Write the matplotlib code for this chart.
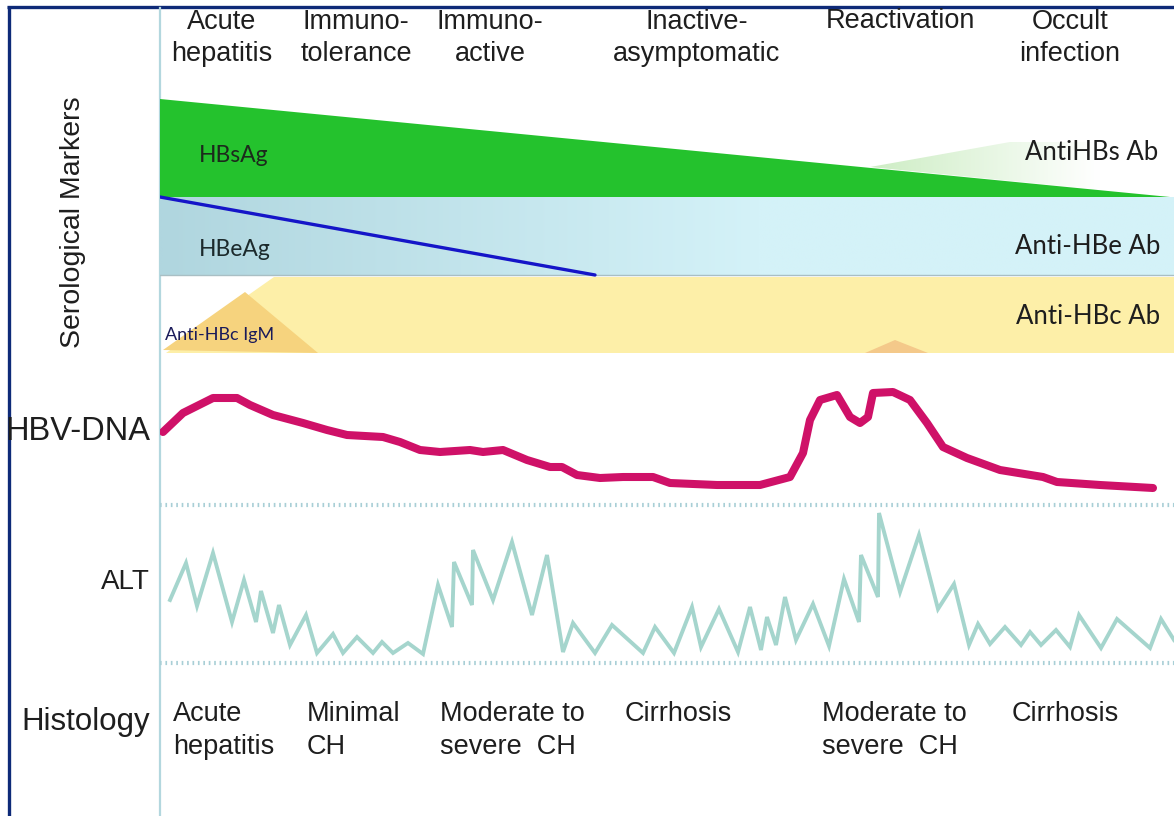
import matplotlib
matplotlib.use("Agg")
import matplotlib.pyplot as plt
import numpy as np
from matplotlib.patches import Polygon
from matplotlib.colors import LinearSegmentedColormap

# ---------------- data ----------------
stages = ["Acute\nhepatitis", "Immuno-\ntolerance", "Immuno-\nactive",
          "Inactive-\nasymptomatic", "Reactivation", "Occult\ninfection"]
histology = ["Acute\nhepatitis", "Minimal\nCH", "Moderate to\nsevere  CH",
             "Cirrhosis", "Moderate to\nsevere  CH", "Cirrhosis"]
row_labels = ["Serological Markers", "HBV-DNA", "ALT", "Histology"]
marker_left = ["HBsAg", "HBeAg", "Anti-HBc IgM"]
marker_right = ["AntiHBs Ab", "Anti-HBe Ab", "Anti-HBc Ab"]

# serological marker levels (time 0..1014, arbitrary level units)
hbsag_t = [0, 0, 1010]
hbsag_level = [15.8, 25.6, 15.8]
antihbs_t = [710, 850, 1014, 1014]
antihbs_level = [18.8, 21.3, 21.3, 15.8]
hbeag_t = [0, 435]
hbeag_level = [15.8, 8.0]
anti_hbe_band = [8.0, 15.8]
anti_hbc_t = [114, 1014, 1014, 6]
anti_hbc_level = [7.8, 7.8, 0.2, 0.2]
igm_t = [3, 85, 158]
igm_level = [0.5, 6.3, 0.2]
react_igm_t = [705, 735, 768]
react_igm_level = [0.2, 1.5, 0.2]

# HBV-DNA
dna_t = [3, 23, 53, 77, 90, 113, 143, 167, 187, 223, 240, 260, 280, 310, 323,
         343, 367, 390, 402, 417, 440, 463, 493, 510, 557, 600, 630, 643, 650,
         660, 677, 690, 700, 708, 713, 733, 750, 767, 783, 807, 840, 883, 897,
         940, 993]
dna_level = [7.3, 9.2, 10.7, 10.7, 10.0, 9.0, 8.2, 7.5, 7.0, 6.8, 6.3, 5.5,
             5.3, 5.5, 5.3, 5.5, 4.5, 3.8, 3.8, 3.0, 2.7, 2.8, 2.8, 2.2, 2.0,
             2.0, 2.8, 5.2, 8.5, 10.5, 11.0, 8.8, 8.2, 8.8, 11.2, 11.3, 10.5,
             8.2, 5.8, 4.7, 3.5, 2.8, 2.3, 2.0, 1.7]

# ALT
alt_t = [10, 26, 37, 53, 72, 84, 96, 101, 113, 119, 130, 146, 157, 173, 183,
         197, 213, 222, 233, 248, 263, 278, 292, 294, 312, 313, 333, 352, 372,
         387, 403, 413, 435, 452, 483, 495, 514, 532, 541, 559, 578, 590, 601,
         607, 616, 625, 636, 653, 669, 684, 699, 701, 718, 719, 740, 759, 778,
         794, 809, 818, 830, 845, 861, 870, 881, 896, 910, 919, 941, 957, 990,
         1001, 1014]
alt_level = [6.3, 10.0, 5.7, 11.0, 4.1, 8.3, 4.1, 7.2, 3.0, 5.8, 1.8, 4.8,
             1.0, 2.9, 1.0, 2.6, 1.0, 2.1, 1.0, 2.0, 0.9, 7.8, 3.6, 10.1, 5.8,
             11.3, 6.3, 12.1, 4.8, 10.8, 1.1, 4.0, 1.0, 3.8, 1.0, 3.6, 1.0,
             5.6, 1.6, 5.4, 1.1, 5.6, 1.3, 4.6, 1.8, 6.6, 2.3, 5.9, 1.7, 8.4,
             4.1, 10.8, 6.6, 15.0, 7.1, 12.8, 5.4, 7.9, 1.8, 3.9, 1.9, 3.6,
             1.8, 3.1, 1.8, 3.3, 1.6, 4.8, 1.5, 4.4, 1.5, 4.4, 2.3]

# ---------------- figure ----------------
W, H = 1174, 816
fig = plt.figure(figsize=(W / 100, H / 100), dpi=100)
fig.patch.set_facecolor("white")


def px_axes(x0, y0, x1, y1, z=1):
    ax = fig.add_axes([x0 / W, 1 - y1 / H, (x1 - x0) / W, (y1 - y0) / H])
    ax.set_zorder(z)
    ax.patch.set_alpha(0)
    ax.axis("off")
    return ax


deco = fig.add_axes([0, 0, 1, 1])
deco.set_xlim(0, W)
deco.set_ylim(H, 0)
deco.axis("off")

ARIAL = "Liberation Sans"
CAL = "Lato"
TXT = "#1e1e1e"

# border + timeline axis
deco.plot([7, W], [6.5, 6.5], color="#0e2a78", lw=2.4, solid_capstyle="butt")
deco.plot([8.5, 8.5], [5.5, H], color="#0e2a78", lw=2.4, solid_capstyle="butt")
deco.plot([160, 160], [8, H], color="#b3d7de", lw=1.6)

# stage labels
stage_x = [222, 356, 490, 697, 900, 1070]
for s, x in zip(stages, stage_x):
    y = 21 if "\n" not in s else 38
    deco.text(x, y, s, ha="center", va="center", fontsize=19.5, family=ARIAL,
              color=TXT, linespacing=1.3)

# histology labels
hist_x = [173, 307, 440, 625, 822, 1012]
for s, x in zip(histology, hist_x):
    if "\n" in s:
        deco.text(x, 730.5, s, ha="left", va="center", fontsize=19.5,
                  family=ARIAL, color=TXT, linespacing=1.33)
    else:
        deco.text(x, 714, s, ha="left", va="center", fontsize=19.5,
                  family=ARIAL, color=TXT)

# row labels
deco.text(73, 222, row_labels[0], rotation=90, ha="center", va="center",
          fontsize=20.5, family=ARIAL, color=TXT)
deco.text(150, 432, row_labels[1], ha="right", va="center", fontsize=23.5,
          family=ARIAL, color=TXT)
deco.text(150, 582, row_labels[2], ha="right", va="center", fontsize=20,
          family=ARIAL, color=TXT)
deco.text(150, 722, row_labels[3], ha="right", va="center", fontsize=22.5,
          family=ARIAL, color=TXT)

# ---------------- serological markers ----------------
sero = px_axes(160, 90, 1174, 355, z=2)
sero.set_xlim(0, 1014)
sero.set_ylim(0, 26.5)

# HBe band with horizontal gradient
tt = np.linspace(0, 1014, 512)
grad = np.clip(tt / 600, 0, 1).reshape(1, -1)
cm_blue = LinearSegmentedColormap.from_list("b", ["#b0d6df", "#d4f2f8"])
sero.imshow(grad, extent=[0, 1014, anti_hbe_band[0], anti_hbe_band[1]],
            aspect="auto", cmap=cm_blue, zorder=1, interpolation="bilinear")
sero.plot([0, 1014], [anti_hbe_band[0]] * 2, color="#a9bfc4", lw=1.0, zorder=2)

# Anti-HBs (light green fading)
ahbs = Polygon(list(zip(antihbs_t, antihbs_level)), closed=True,
               facecolor="none", edgecolor="none")
sero.add_patch(ahbs)
g2 = np.clip((tt - 710) / 230, 0, 1).reshape(1, -1)
cm_g = LinearSegmentedColormap.from_list("g", ["#cdedc4", "#ffffff"])
im = sero.imshow(g2, extent=[0, 1014, 15.8, 21.7], aspect="auto", cmap=cm_g,
                 zorder=1, interpolation="bilinear")
im.set_clip_path(ahbs)

# HBsAg
sero.add_patch(Polygon(list(zip(hbsag_t, hbsag_level)), closed=True,
                       facecolor="#24c22d", edgecolor="none", zorder=3))
# HBeAg line
sero.plot(hbeag_t, hbeag_level, color="#1515c8", lw=2.4, zorder=4,
          solid_capstyle="round")

# Anti-HBc
sero.add_patch(Polygon(list(zip(anti_hbc_t, anti_hbc_level)), closed=True,
                       facecolor="#fdefa8", edgecolor="none", zorder=2))
sero.add_patch(Polygon(list(zip(igm_t, igm_level)), closed=True,
                       facecolor="#f6d37e", edgecolor="none", zorder=3))
sero.add_patch(Polygon(list(zip(react_igm_t, react_igm_level)), closed=True,
                       facecolor="#f4c98a", edgecolor="none", zorder=3))

# marker texts
kw = dict(family=CAL, zorder=5, va="center")
sero.text(39, 20.0, marker_left[0], fontsize=16.5, color="#1c2a1c", **kw)
sero.text(39, 10.5, marker_left[1], fontsize=16.5, color="#1c2a2c", **kw)
sero.text(5, 2.0, marker_left[2], fontsize=13, color="#1a1a5a", **kw)
sero.text(998, 20.2, marker_right[0], fontsize=18.5, color="#1e1e1e",
          ha="right", **kw)
sero.text(1000, 10.8, marker_right[1], fontsize=18.5, color="#1e1e1e",
          ha="right", **kw)
sero.text(1000, 3.9, marker_right[2], fontsize=18.5, color="#1e1e1e",
          ha="right", **kw)

# ---------------- HBV-DNA ----------------
dna = px_axes(160, 375, 1174, 510, z=3)
dna.set_xlim(0, 1014)
dna.set_ylim(-0.5, 13)
dna.axhline(0, color="#a9cfd6", lw=3, linestyle=(0, (0.4, 0.9)))
dna.plot(dna_t, dna_level, color="#cf1168", lw=5.8, solid_capstyle="round",
         solid_joinstyle="round")

# ---------------- ALT ----------------
alt = px_axes(160, 505, 1174, 668, z=3)
alt.set_xlim(0, 1014)
alt.set_ylim(-0.5, 15.8)
alt.axhline(0, color="#a9cfd6", lw=3, linestyle=(0, (0.4, 0.9)))
alt.plot(alt_t, alt_level, color="#a5d5cd", lw=2.8, solid_joinstyle="miter")

fig.savefig("out.png", dpi=100, facecolor="white")
